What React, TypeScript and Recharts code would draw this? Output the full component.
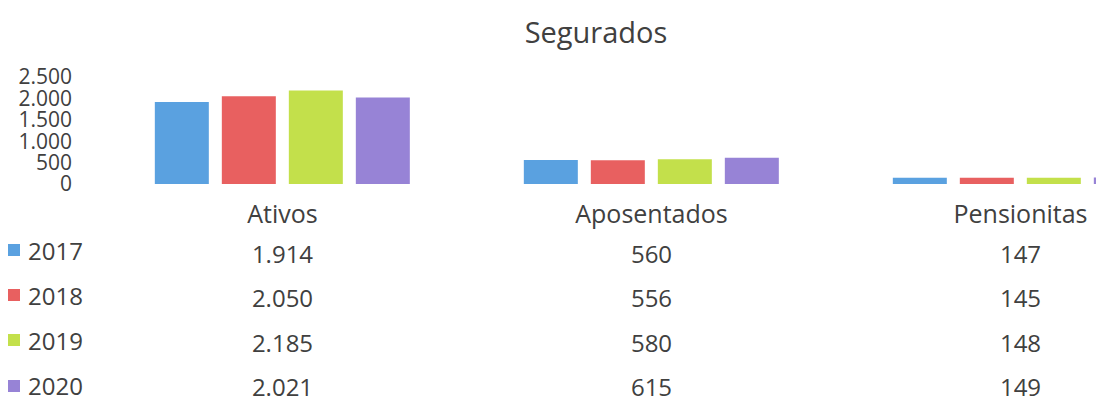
import React from 'react';
import { BarChart, Bar, XAxis, YAxis } from 'recharts';

const categories = ['Ativos', 'Aposentados', 'Pensionitas'];
const years = ['2017', '2018', '2019', '2020'];
const values2017 = [1914, 560, 147];
const values2018 = [2050, 556, 145];
const values2019 = [2185, 580, 148];
const values2020 = [2021, 615, 149];
const yTicks = [0, 500, 1000, 1500, 2000, 2500];

const colors = ['#5aa1e0', '#e86060', '#c3e04b', '#9783d6'];
const seriesValues = [values2017, values2018, values2019, values2020];

const data = categories.map((name, i) => ({
  name,
  y2017: values2017[i],
  y2018: values2018[i],
  y2019: values2019[i],
  y2020: values2020[i],
}));

const font = '"Open Sans", sans-serif';
const textColor = '#404040';

// 1914 -> "1.914"
const fmt = (v: number) => String(v).replace(/\B(?=(\d{3})+(?!\d))/g, '.');

const TableTick = (props: any) => {
  const { x, y, payload } = props;
  const idx = payload.index;
  return (
    <g>
      <text x={x} y={y + 29} textAnchor="middle" dominantBaseline="central"
        fontSize={25} fill={textColor} fontFamily={font}>
        {payload.value}
      </text>
      {seriesValues.map((vals, r) => (
        <text key={r} x={x} y={y + 69 + r * 44.5} textAnchor="middle" dominantBaseline="central"
          fontSize={24} fill={textColor} fontFamily={font}>
          {fmt(vals[idx])}
        </text>
      ))}
    </g>
  );
};

export default function App() {
  return (
    <div style={{ position: 'absolute', left: 0, top: 0, width: 1096, height: 404, overflow: 'hidden', background: '#fff', fontFamily: font }}>
      <div style={{ position: 'absolute', left: 446, width: 300, top: 10, textAlign: 'center', fontSize: 29, color: textColor, lineHeight: '44px' }}>
        Segurados
      </div>
      <BarChart width={1215} height={404} data={data}
        margin={{ top: 77, right: 10, left: 0, bottom: 0 }}
        barCategoryGap="15.4%" barGap={13}>
        <XAxis dataKey="name" tick={<TableTick />} tickLine={false} axisLine={false}
          interval={0} tickSize={0} tickMargin={0} height={220} />
        <YAxis domain={[0, 2500]} ticks={yTicks} tickFormatter={fmt} width={98}
          interval={0} tickLine={false} axisLine={false} tickSize={0} tickMargin={26}
          tick={{ fontSize: 21, fill: textColor, fontFamily: font }} />
        <Bar dataKey="y2017" fill={colors[0]} isAnimationActive={false} />
        <Bar dataKey="y2018" fill={colors[1]} isAnimationActive={false} />
        <Bar dataKey="y2019" fill={colors[2]} isAnimationActive={false} />
        <Bar dataKey="y2020" fill={colors[3]} isAnimationActive={false} />
      </BarChart>
      {years.map((yr, i) => (
        <div key={yr} style={{ position: 'absolute', left: 8, top: 250 + i * 45.2 - 18, height: 36, display: 'flex', alignItems: 'center', fontSize: 24, color: textColor }}>
          <span style={{ display: 'inline-block', width: 12, height: 12, background: colors[i], marginRight: 8 }} />
          {yr}
        </div>
      ))}
    </div>
  );
}
